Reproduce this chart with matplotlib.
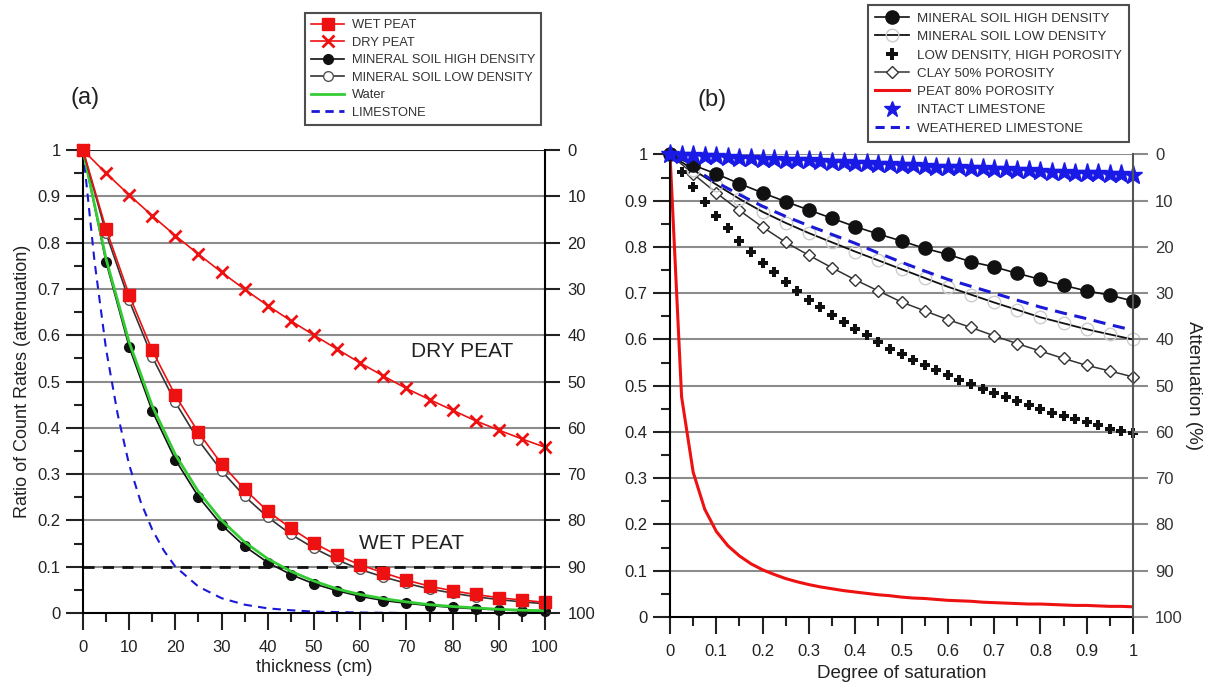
import numpy as np
import matplotlib.pyplot as plt
from matplotlib.ticker import MultipleLocator
from matplotlib.lines import Line2D

plt.rcParams["font.family"] = ["Liberation Sans", "DejaVu Sans"]

# ---- panel (a) data : thickness (cm)
thick = [0, 5, 10, 15, 20, 25, 30, 35, 40, 45, 50, 55, 60, 65, 70, 75, 80, 85, 90, 95, 100]
wet_peat = [1, 0.83, 0.687, 0.567, 0.47, 0.39, 0.322, 0.267, 0.22, 0.183, 0.151, 0.125,
            0.104, 0.087, 0.071, 0.058, 0.048, 0.04, 0.033, 0.028, 0.023]
dry_peat = [1, 0.95, 0.903, 0.858, 0.815, 0.775, 0.736, 0.699, 0.664, 0.631, 0.6, 0.57,
            0.54, 0.512, 0.485, 0.461, 0.438, 0.415, 0.395, 0.376, 0.358]
min_high_a = [1, 0.758, 0.575, 0.436, 0.331, 0.251, 0.19, 0.144, 0.109, 0.083, 0.063, 0.048,
              0.036, 0.027, 0.021, 0.016, 0.012, 0.009, 0.007, 0.005, 0.004]
min_low_a = [1, 0.82, 0.675, 0.553, 0.455, 0.373, 0.307, 0.252, 0.207, 0.17, 0.14, 0.115,
             0.094, 0.078, 0.064, 0.052, 0.043, 0.035, 0.029, 0.024, 0.02]
water = [1, 0.765, 0.585, 0.447, 0.342, 0.262, 0.2, 0.153, 0.117, 0.09, 0.069, 0.052,
         0.04, 0.031, 0.024, 0.018, 0.014, 0.011, 0.008, 0.006, 0.005]
lime_x = [0, 2.5, 5, 7.5, 10, 12.5, 15, 17.5, 20, 25, 30, 35, 40, 45, 50, 60, 70, 80, 90, 100]
limestone = [1, 0.76, 0.57, 0.43, 0.32, 0.24, 0.18, 0.135, 0.1, 0.057, 0.032, 0.018, 0.01,
             0.006, 0.003, 0.001, 0, 0, 0, 0]

# ---- panel (b) data : degree of saturation
sat20 = [0, 0.05, 0.1, 0.15, 0.2, 0.25, 0.3, 0.35, 0.4, 0.45, 0.5, 0.55, 0.6, 0.65, 0.7,
         0.75, 0.8, 0.85, 0.9, 0.95, 1.0]
min_high_b = [1, 0.977, 0.958, 0.937, 0.917, 0.898, 0.88, 0.862, 0.844, 0.828, 0.813, 0.797,
              0.784, 0.768, 0.757, 0.743, 0.73, 0.717, 0.705, 0.696, 0.683]
min_low_b = [1, 0.967, 0.935, 0.904, 0.876, 0.852, 0.83, 0.81, 0.79, 0.771, 0.752, 0.733,
             0.714, 0.697, 0.68, 0.664, 0.648, 0.635, 0.622, 0.611, 0.6]
clay = [1, 0.958, 0.917, 0.879, 0.843, 0.81, 0.782, 0.755, 0.729, 0.705, 0.681, 0.662,
        0.643, 0.626, 0.608, 0.591, 0.575, 0.559, 0.544, 0.532, 0.519]
weathered = [1, 0.969, 0.94, 0.913, 0.888, 0.866, 0.846, 0.827, 0.808, 0.787, 0.767, 0.748,
             0.73, 0.715, 0.7, 0.685, 0.67, 0.657, 0.645, 0.632, 0.62]

sat40 = [0, 0.025, 0.05, 0.075, 0.1, 0.125, 0.15, 0.175, 0.2, 0.225, 0.25, 0.275, 0.3, 0.325,
         0.35, 0.375, 0.4, 0.425, 0.45, 0.475, 0.5, 0.525, 0.55, 0.575, 0.6, 0.625, 0.65,
         0.675, 0.7, 0.725, 0.75, 0.775, 0.8, 0.825, 0.85, 0.875, 0.9, 0.925, 0.95, 0.975, 1.0]
low_dens = [1, 0.963, 0.929, 0.898, 0.868, 0.841, 0.814, 0.789, 0.766, 0.745, 0.724, 0.705,
            0.686, 0.67, 0.654, 0.638, 0.622, 0.609, 0.595, 0.58, 0.568, 0.555, 0.544, 0.533,
            0.523, 0.512, 0.503, 0.494, 0.484, 0.476, 0.467, 0.458, 0.449, 0.442, 0.435,
            0.428, 0.422, 0.415, 0.407, 0.402, 0.397]
peat80 = [1, 0.476, 0.313, 0.233, 0.185, 0.154, 0.132, 0.115, 0.102, 0.092, 0.083, 0.076,
          0.07, 0.065, 0.061, 0.057, 0.054, 0.051, 0.048, 0.046, 0.043, 0.041, 0.04, 0.038,
          0.036, 0.035, 0.034, 0.032, 0.031, 0.03, 0.029, 0.028, 0.028, 0.027, 0.026, 0.025,
          0.025, 0.024, 0.023, 0.023, 0.022]
intact = [1, 0.999, 0.998, 0.997, 0.996, 0.994, 0.993, 0.992, 0.991, 0.99, 0.989, 0.988,
          0.987, 0.986, 0.984, 0.983, 0.982, 0.981, 0.98, 0.979, 0.978, 0.977, 0.976, 0.974,
          0.973, 0.972, 0.971, 0.97, 0.969, 0.968, 0.967, 0.966, 0.965, 0.963, 0.962, 0.961,
          0.96, 0.959, 0.958, 0.957, 0.955]

yticks = [0, 0.1, 0.2, 0.3, 0.4, 0.5, 0.6, 0.7, 0.8, 0.9, 1]
ytick_labels = ["0", "0.1", "0.2", "0.3", "0.4", "0.5", "0.6", "0.7", "0.8", "0.9", "1"]
xticks_a = [0, 10, 20, 30, 40, 50, 60, 70, 80, 90, 100]
xticks_b = [0, 0.1, 0.2, 0.3, 0.4, 0.5, 0.6, 0.7, 0.8, 0.9, 1]
xtick_labels_b = ["0", "0.1", "0.2", "0.3", "0.4", "0.5", "0.6", "0.7", "0.8", "0.9", "1"]
att_ticks = [0, 10, 20, 30, 40, 50, 60, 70, 80, 90, 100]

RED = "#ee1111"
GRID = "#8c8c8c"
TXT = "#222222"

fig = plt.figure(figsize=(12.18, 6.86), dpi=100)
ax1 = fig.add_axes([0.0681, 0.1064, 0.3794, 0.6749])
ax2 = fig.add_axes([0.5501, 0.1006, 0.3801, 0.6742])


def style_axes(ax, xticks, xlabels, minor_x):
    ax.set_ylim(0, 1)
    ax.set_yticks(yticks)
    ax.set_yticklabels(ytick_labels)
    ax.yaxis.set_minor_locator(MultipleLocator(0.05))
    ax.set_xticks(xticks)
    ax.set_xticklabels(xlabels)
    ax.xaxis.set_minor_locator(MultipleLocator(minor_x))
    ax.tick_params(which="major", length=12.5, width=1.5, labelsize=12, color="#222",
                   labelcolor=TXT)
    ax.tick_params(axis="x", which="major", pad=7)
    ax.tick_params(which="minor", length=6.5, width=1.5, color="#222")
    for v in yticks[1:-1]:
        ax.axhline(v, color=GRID, lw=1.5, zorder=0)
    ax.spines["left"].set_linewidth(1.5)
    ax.spines["bottom"].set_linewidth(1.5)
    ax.spines["top"].set_visible(False)
    ax.spines["right"].set_visible(False)


# ----------------- panel (a)
style_axes(ax1, xticks_a, [str(v) for v in xticks_a], 5)
ax1.set_xlim(0, 100)
ax1.axhline(1, color="#222", lw=1.5, zorder=0)
ax1.axhline(0.1, color="#111", lw=2, ls=(0, (4, 3)), zorder=1)

ax1.plot(lime_x, limestone, color="#1a1ad6", lw=1.5, ls=(0, (4, 3)), zorder=2)
ax1.plot(thick, dry_peat, color=RED, lw=1.2, marker="x", ms=8, mew=2, clip_on=False, zorder=3)
ax1.plot(thick, min_high_a, color="#111", lw=1.2, marker="o", ms=7, clip_on=False, zorder=3)
ax1.plot(thick, water, color="#33cc33", lw=2, zorder=4)
ax1.plot(thick, min_low_a, color="#333", lw=1.2, marker="o", ms=7, mfc="white",
         mec="#555", clip_on=False, zorder=4)
ax1.plot(thick, wet_peat, color=RED, lw=1.2, marker="s", ms=8, mec=RED, clip_on=False, zorder=5)

ax1.set_xlabel("thickness (cm)", fontsize=13, labelpad=3, color=TXT)
ax1.set_ylabel("Ratio of Count Rates (attenuation)", fontsize=13, labelpad=5, color=TXT)
ax1.text(82, 0.564, "DRY PEAT", fontsize=15, ha="center", va="center", color=TXT)
ax1.text(71, 0.151, "WET PEAT", fontsize=15, ha="center", va="center", color=TXT)

ax1r = ax1.twinx()
ax1r.set_ylim(100, 0)
ax1r.set_yticks(att_ticks)
ax1r.tick_params(length=11, width=1.5, labelsize=12, color="#222", labelcolor=TXT, pad=5)
for s in ["top", "left", "bottom"]:
    ax1r.spines[s].set_visible(False)
ax1r.spines["right"].set_linewidth(1.5)

leg1 = [
    Line2D([], [], color=RED, lw=1.2, marker="s", ms=8, mec=RED, label="WET PEAT"),
    Line2D([], [], color=RED, lw=1.2, marker="x", ms=8, mew=2, label="DRY PEAT"),
    Line2D([], [], color="#111", lw=1.2, marker="o", ms=7, label="MINERAL SOIL HIGH DENSITY"),
    Line2D([], [], color="#333", lw=1.2, marker="o", ms=7, mfc="white", mec="#555",
           label="MINERAL SOIL LOW DENSITY"),
    Line2D([], [], color="#33cc33", lw=2, label="Water"),
    Line2D([], [], color="#1a1ad6", lw=2, ls=(0, (3, 2)), label="LIMESTONE"),
]
fig.legend(handles=leg1, loc="upper left", bbox_to_anchor=(305 / 1218, 1 - 13 / 686),
           borderaxespad=0, fontsize=9.3, frameon=True, fancybox=False, edgecolor="#222",
           labelspacing=0.42, handlelength=2.5, borderpad=0.5, handletextpad=0.6,
           labelcolor="#333").get_frame().set_linewidth(1.5)

# ----------------- panel (b)
style_axes(ax2, xticks_b, xtick_labels_b, 0.05)
ax2.set_xlim(0, 1)
ax2.axhline(1, color=GRID, lw=1.5, zorder=0)

ax2.plot(sat40, peat80, color=RED, lw=2.2, zorder=2)
ax2.plot(sat20, clay, color="#333", lw=1.1, marker="D", ms=6, mfc="white", mec="#333",
         clip_on=False, zorder=3)
ax2.plot(sat40, low_dens, ls="none", marker="P", ms=7, color="#111", mew=0, clip_on=False, zorder=3)
ax2.plot(sat20, min_low_b, color="#111", lw=1.3, marker="o", ms=9, mfc="none", mec="#cccccc",
         clip_on=False, zorder=3)
ax2.plot(sat20, weathered, color="#1a1ad6", lw=2.2, ls=(0, (4, 2.5)), zorder=4)
ax2.plot(sat20, min_high_b, color="#111", lw=1.2, marker="o", ms=9.5, clip_on=False, zorder=4)
ax2.plot(sat40, intact, ls="none", marker="*", ms=14, color="#1a1ae6", clip_on=False, zorder=5)

ax2.set_xlabel("Degree of saturation", fontsize=13.5, labelpad=4, color=TXT)

ax2r = ax2.twinx()
ax2r.set_ylim(100, 0)
ax2r.set_yticks(att_ticks)
ax2r.tick_params(length=11, width=1.5, labelsize=12, color=GRID, labelcolor="#333", pad=5)
for s in ["top", "left", "bottom"]:
    ax2r.spines[s].set_visible(False)
ax2r.spines["right"].set_linewidth(1.5)
ax2r.spines["right"].set_color("#555")
ax2r.set_ylabel("Attenuation (%)", fontsize=13.5, rotation=270, labelpad=14, color=TXT)

leg2 = [
    Line2D([], [], color="#111", lw=1.2, marker="o", ms=9.5, label="MINERAL SOIL HIGH DENSITY"),
    Line2D([], [], color="#111", lw=1.3, marker="o", ms=9, mfc="none", mec="#cccccc",
           label="MINERAL SOIL LOW DENSITY"),
    Line2D([], [], ls="none", marker="P", ms=8, color="#111", mew=0, label="LOW DENSITY, HIGH POROSITY"),
    Line2D([], [], color="#333", lw=1.1, marker="D", ms=6, mfc="white", mec="#333",
           label="CLAY 50% POROSITY"),
    Line2D([], [], color=RED, lw=2.2, label="PEAT 80% POROSITY"),
    Line2D([], [], ls="none", marker="*", ms=12, color="#1a1ae6", label="INTACT LIMESTONE"),
    Line2D([], [], color="#1a1ad6", lw=2.2, ls=(0, (3, 2)), label="WEATHERED LIMESTONE"),
]
fig.legend(handles=leg2, loc="upper left", bbox_to_anchor=(868 / 1218, 1 - 5 / 686),
           borderaxespad=0, fontsize=9.6, frameon=True, fancybox=False, edgecolor="#222",
           labelspacing=0.45, handlelength=2.5, borderpad=0.55, handletextpad=0.6,
           labelcolor="#333").get_frame().set_linewidth(1.5)

fig.text(85 / 1218, 1 - 98 / 686, "(a)", fontsize=17, ha="center", va="center", color=TXT)
fig.text(712 / 1218, 1 - 100 / 686, "(b)", fontsize=17, ha="center", va="center", color=TXT)

fig.savefig("out.png", dpi=100)
